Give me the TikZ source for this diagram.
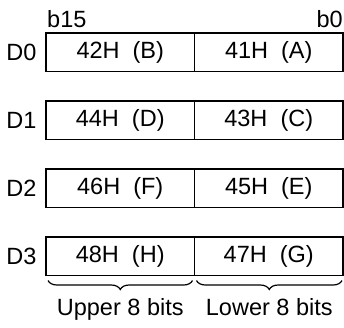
\documentclass[tikz,border=0pt]{standalone}
\usepackage{fontspec}
\setmainfont{Liberation Sans}
\usetikzlibrary{decorations.pathreplacing}
\tikzset{
  cell/.style={
    draw, line width=1.8pt, outer sep=0pt, inner sep=0pt,
    minimum width=148.5pt, minimum height=38.5pt,
    font=\fontsize{23.5}{27}\selectfont
  },
  reglabel/.style={inner sep=0pt, font=\fontsize{23.5}{27}\selectfont},
  bitbrace/.style={
    decorate, line width=1.2pt,
    decoration={brace, mirror, amplitude=9pt}
  }
}

\begin{document}
\begin{tikzpicture}[x=1pt, y=-1pt]
  \useasboundingbox (0,0) rectangle (344,327);

  % ── bit numbers ──────────────────────────────────────────────────
  \node[reglabel, anchor=base west] (bhigh) at (47,27)  {b15};
  \node[reglabel, anchor=base east] (blow)  at (343,27) {b0};

  % ── registers D0..D3 ─────────────────────────────────────────────
  \foreach \i/\hib/\lob in {0/42H\ \ (B)/41H\ \ (A),
                            1/44H\ \ (D)/43H\ \ (C),
                            2/46H\ \ (F)/45H\ \ (E),
                            3/48H\ \ (H)/47H\ \ (G)}
    {
      \node[cell] (hi\i) at (120.25, 52.25+68*\i) {\hib};
      \node[cell, anchor=west] (lo\i) at (hi\i.east) {\lob};
      \node[reglabel] (d\i) at (21.5, 52.25+68*\i) {D\i};
    }

  % ── braces under D3 ──────────────────────────────────────────────
  \draw[bitbrace] ([xshift=2pt, yshift=-5pt]hi3.south west)
      -- ([xshift=-2pt, yshift=-5pt]hi3.south east)
      node[reglabel, midway, below=17pt] (upper) {Upper 8 bits};
  \draw[bitbrace] ([xshift=2pt, yshift=-5pt]lo3.south west)
      -- ([xshift=-1pt, yshift=-5pt]lo3.south east)
      node[reglabel, midway, below=17pt] (lower) {Lower 8 bits};
\end{tikzpicture}
\end{document}
